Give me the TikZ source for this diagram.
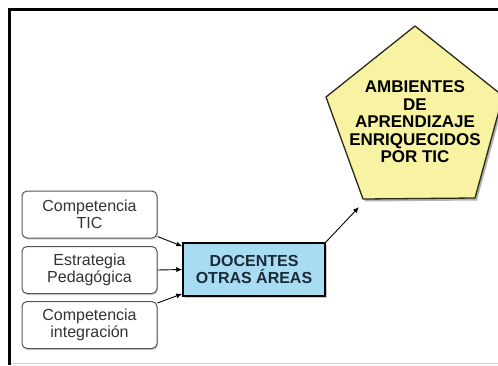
\documentclass[tikz,border=0pt]{standalone}
\usepackage{fontspec}
\setmainfont{Liberation Sans}
\usetikzlibrary{shadows,arrows.meta}
\definecolor{boxtext}{HTML}{333333}
\definecolor{boxline}{HTML}{555555}
\definecolor{docfill}{HTML}{A8DCF2}
\definecolor{doctext}{HTML}{1B2A38}
\definecolor{pentfill}{HTML}{F7F3A2}
\definecolor{pentline}{HTML}{2A2A1A}
\definecolor{bottomline}{HTML}{D0D0D0}
\tikzset{
  inbox/.style={draw=boxline, fill=white, rounded corners=5pt, line width=1pt,
    minimum width=135pt, minimum height=47pt, inner sep=0pt, align=center,
    text=boxtext, font=\fontsize{16}{17.5}\selectfont,
    drop shadow={shadow xshift=1pt, shadow yshift=-1.5pt, opacity=0.35}},
  docbox/.style={draw=black, fill=docfill, line width=1.5pt,
    minimum width=142pt, minimum height=53pt, inner sep=0pt, align=center,
    text=doctext, font=\fontsize{16}{17}\selectfont\bfseries,
    drop shadow={shadow xshift=1.5pt, shadow yshift=-1.5pt, opacity=0.4}},
  pentlabel/.style={align=center, inner sep=0pt, text=black,
    font=\fontsize{17}{17.5}\selectfont\bfseries},
  arr/.style={-{Latex[length=6pt,width=5pt]}, line width=0.9pt, draw=black},
  frameline/.style={line width=3pt, draw=black}
}
\begin{document}
\begin{tikzpicture}[x=1pt,y=-1pt]
\useasboundingbox (0,0) rectangle (498,365);
\clip (0,0) rectangle (498,365);
\fill[white] (0,0) rectangle (498,365);
% frame
\draw[frameline] (9,365) -- (9,9) -- (498,9);
\draw[bottomline, line width=1pt] (10.5,363) -- (498,363);
% pentagon
\coordinate (pt) at (415,26);
\coordinate (pr) at (503,96);
\coordinate (pbr) at (475,198);
\coordinate (pbl) at (363,199);
\coordinate (pl) at (326,97);
\fill[black, opacity=0.3] ([xshift=2pt,yshift=-2.5pt]pt) -- ([xshift=2pt,yshift=-2.5pt]pr) -- ([xshift=2pt,yshift=-2.5pt]pbr) -- ([xshift=2pt,yshift=-2.5pt]pbl) -- ([xshift=2pt,yshift=-2.5pt]pl) -- cycle;
\draw[pentline, fill=pentfill, line width=1.3pt, line join=round] (pt) -- (pr) -- (pbr) -- (pbl) -- (pl) -- cycle;
\node[pentlabel] (amb) at (415,122) {AMBIENTES\\DE\\APRENDIZAJE\\ENRIQUECIDOS\\POR TIC};
% input boxes
\node[inbox] (tic) at (89.5,214.5) {Competencia\\TIC};
\node[inbox] (est) at (89.5,270) {Estrategia\\Pedagógica};
\node[inbox] (int) at (89.5,325) {Competencia\\integración};
% central box
\node[docbox] (doc) at (254,269.5) {DOCENTES\\OTRAS ÁREAS};
% arrows
\draw[arr] ([yshift=2pt]tic.south east) -- ([yshift=-4pt]doc.north west);
\draw[arr] (est.east) -- (doc.west);
\draw[arr] ([yshift=-2pt]int.north east) -- ([yshift=3pt]doc.south west);
\coordinate (tip) at (359,207);
\draw[arr] (doc.north east) -- (tip);
\end{tikzpicture}
\end{document}
